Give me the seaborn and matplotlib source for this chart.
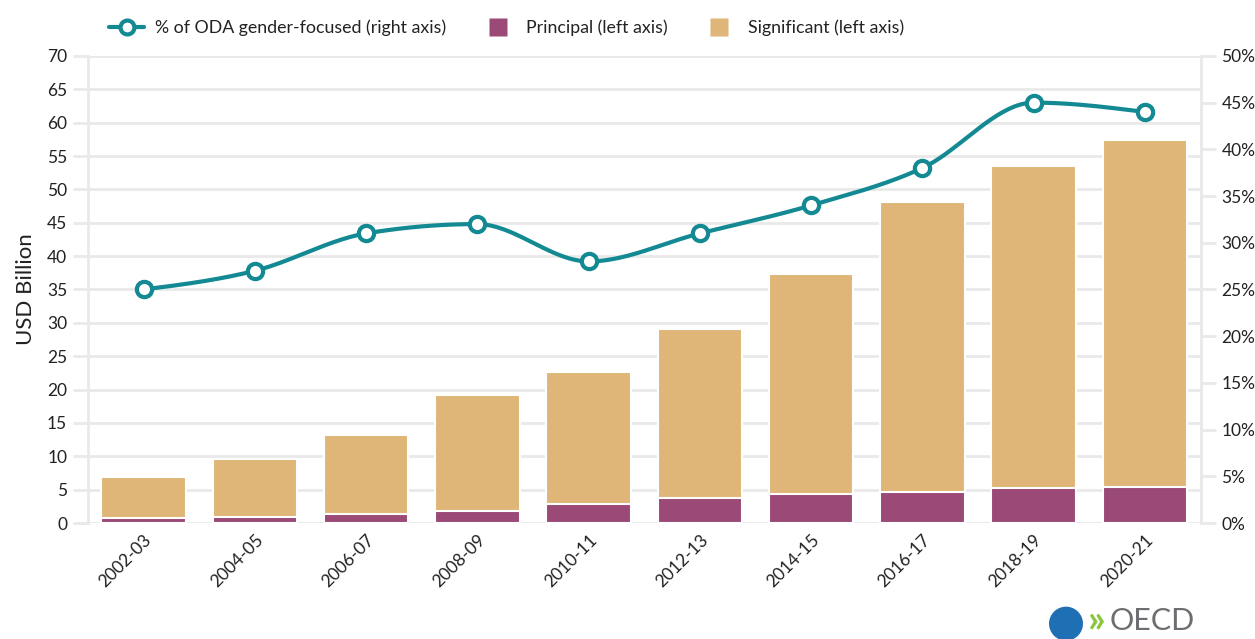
import numpy as np
import pandas as pd
import seaborn as sns
import matplotlib.pyplot as plt
from matplotlib.lines import Line2D
from matplotlib.patches import Ellipse

periods = ['2002-03', '2004-05', '2006-07', '2008-09', '2010-11',
           '2012-13', '2014-15', '2016-17', '2018-19', '2020-21']
principal = [0.75, 0.95, 1.35, 1.85, 2.85, 3.75, 4.3, 4.7, 5.3, 5.45]
significant = [6.15, 8.65, 11.85, 17.35, 19.75, 25.35, 33.0, 43.4, 48.2, 51.95]
pct_gender = [25, 27, 31, 32, 28, 31, 34, 38, 45, 44]

teal = '#138a93'
purple = '#9b4a78'
sand = '#dfb677'
grid_c = '#e9e9e9'
text_c = '#222222'

sns.set_theme(style='white')
plt.rcParams['font.family'] = ['Lato', 'DejaVu Sans']

df = pd.DataFrame({'period': periods, 'principal': principal,
                   'significant': significant, 'pct': pct_gender})
df['total'] = df['principal'] + df['significant']


def monotone_curve(y, n=40):
    # smooth monotone cubic through the points (like d3 curveMonotoneX)
    y = np.asarray(y, dtype=float)
    x = np.arange(len(y), dtype=float)
    s = np.diff(y)
    m = np.zeros(len(y))
    for i in range(1, len(y) - 1):
        p = (s[i - 1] + s[i]) / 2
        m[i] = (np.sign(s[i - 1]) + np.sign(s[i])) * min(abs(s[i - 1]), abs(s[i]), 0.5 * abs(p))
    m[0] = (3 * s[0] - m[1]) / 2
    m[-1] = (3 * s[-1] - m[-2]) / 2
    xs, ys = [], []
    for i in range(len(y) - 1):
        t = np.linspace(0, 1, n, endpoint=(i == len(y) - 2))
        h00 = 2 * t**3 - 3 * t**2 + 1
        h10 = t**3 - 2 * t**2 + t
        h01 = -2 * t**3 + 3 * t**2
        h11 = t**3 - t**2
        xs.append(x[i] + t)
        ys.append(h00 * y[i] + h10 * m[i] + h01 * y[i + 1] + h11 * m[i + 1])
    return np.concatenate(xs), np.concatenate(ys)


fig = plt.figure(figsize=(12.55, 6.39), dpi=100)
ax = fig.add_axes([0.0701, 0.1815, 0.8865, 0.731])

# stacked bars: total first (significant colour), principal on top of it
sns.barplot(data=df, x='period', y='total', color=sand, saturation=1,
            width=0.76, edgecolor='white', linewidth=1.5, ax=ax, zorder=2)
sns.barplot(data=df, x='period', y='principal', color=purple, saturation=1,
            width=0.76, edgecolor='white', linewidth=1.5, ax=ax, zorder=3)

ax.set_xlim(-0.5, 9.5)
ax.set_ylim(0, 70)
ax.set_yticks(np.arange(0, 71, 5))
ax.yaxis.grid(True, color=grid_c, linewidth=2)
ax.set_axisbelow(True)
ax.set_xlabel('')
ax.set_ylabel('USD Billion', fontsize=16, color=text_c, labelpad=8)
ax.tick_params(axis='y', length=11, width=2, color=grid_c, labelsize=12.5,
               labelcolor=text_c, pad=4)
ax.tick_params(axis='x', direction='in', length=6, width=1, color='#e3d0da',
               labelsize=12.5, labelcolor=text_c, pad=6)
for lab in ax.get_xticklabels():
    lab.set_rotation(45)
    lab.set_ha('right')
    lab.set_rotation_mode('anchor')
for side in ['top', 'bottom']:
    ax.spines[side].set_visible(False)
for side in ['left', 'right']:
    ax.spines[side].set_color(grid_c)
    ax.spines[side].set_linewidth(2)

ax2 = ax.twinx()
ax2.set_ylim(0, 50)
ax2.set_yticks(np.arange(0, 51, 5))
ax2.set_yticklabels([f'{v}%' for v in range(0, 51, 5)])
ax2.tick_params(axis='y', length=11, width=2, color=grid_c, labelsize=12.5,
                labelcolor=text_c, pad=4)
for side in ['top', 'bottom', 'left']:
    ax2.spines[side].set_visible(False)
ax2.spines['right'].set_color(grid_c)
ax2.spines['right'].set_linewidth(2)
ax2.grid(False)

cx, cy = monotone_curve(df['pct'])
sns.lineplot(x=cx, y=cy, color=teal, linewidth=3, ax=ax2, zorder=4)
ax2.plot(np.arange(len(periods)), df['pct'], linestyle='none', marker='o',
         markersize=11, markerfacecolor='white', markeredgecolor=teal,
         markeredgewidth=3, zorder=5)
ax2.set_xlim(-0.5, 9.5)

handles = [
    Line2D([0], [0], color=teal, linewidth=3, marker='o', markersize=10,
           markerfacecolor='white', markeredgecolor=teal, markeredgewidth=3),
    Line2D([0], [0], linestyle='none', marker='s', markersize=13,
           markerfacecolor=purple, markeredgecolor='none'),
    Line2D([0], [0], linestyle='none', marker='s', markersize=13,
           markerfacecolor=sand, markeredgecolor='none'),
]
labels = ['% of ODA gender-focused (right axis)', 'Principal (left axis)',
          'Significant (left axis)']
leg = fig.legend(handles, labels, loc='center left', bbox_to_anchor=(0.074, 0.956),
                 ncol=3, frameon=False, fontsize=12.8, handlelength=2.0,
                 handletextpad=0.6, columnspacing=1.9)
for t in leg.get_texts():
    t.set_color(text_c)

# OECD mark in the lower right corner
fig.patches.append(Ellipse((0.8494, 0.024), 34 / 1255, 34 / 639,
                           transform=fig.transFigure,
                           facecolor='#1f6fb5', edgecolor='none'))
fig.text(0.867, 0.003, '\u00bb', color='#8cc63f', fontsize=28, fontweight='bold',
         va='bottom', ha='left')
fig.text(0.884, 0.006, 'OECD', color='#6d6e71', fontsize=22, va='bottom', ha='left')

fig.savefig('out.png', dpi=100)
